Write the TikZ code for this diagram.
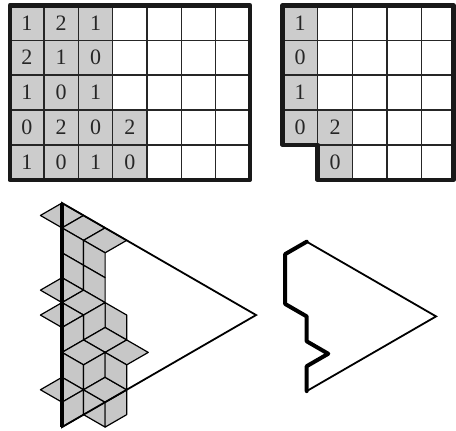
\documentclass[tikz,border=0pt]{standalone}
\usepackage{fontspec}
\setmainfont{Liberation Serif}
\newcommand\LA[2]{({62+21.564*(#1)},{203+12.45*(#1)+24.9*(#2)})}
\newcommand\LB[2]{({306.7+21.564*(#1)},{241.7+12.45*(#1)+24.9*(#2)})}
\newcommand\rhH[2]{\filldraw[tile] \LA{#1-1}{#2} -- \LA{#1}{#2-1} -- \LA{#1+1}{#2-1} -- \LA{#1}{#2} -- cycle;}
\newcommand\rhE[2]{\filldraw[tile] \LA{#1}{#2} -- \LA{#1+1}{#2} -- \LA{#1+1}{#2+1} -- \LA{#1}{#2+1} -- cycle;}
\newcommand\rhF[2]{\filldraw[tile] \LA{#1}{#2} -- \LA{#1+1}{#2-1} -- \LA{#1+1}{#2} -- \LA{#1}{#2+1} -- cycle;}
\begin{document}
\begin{tikzpicture}[x=1pt,y=-1pt,
  gridline/.style={line width=1.3pt, draw=black!85},
  border/.style={line width=4.5pt, draw=black!90, line join=round, line cap=round},
  cellgray/.style={fill=black!20},
  tile/.style={fill=black!22, draw=black, line width=1.2pt, line join=round},
  tri/.style={draw=black, line width=1.8pt, line join=miter},
  heavy/.style={draw=black, line width=4pt, line join=round, line cap=round},
  num/.style={font=\fontsize{22}{22}\selectfont, text=black!85, inner sep=0pt}]
\useasboundingbox (0,0) rectangle (456,431);

% ---------- top-left grid ----------
\fill[cellgray] (9.8,5.3) rectangle (112.7,179.8);
\fill[cellgray] (112.7,110) rectangle (147,179.8);
\foreach \x in {44.1,78.4,112.7,147,181.3,215.6}
  \draw[gridline] (\x,5.3) -- (\x,179.8);
\foreach \y in {40.2,75.1,110,144.9}
  \draw[gridline] (9.8,\y) -- (249.9,\y);
\draw[border] (9.8,5.3) rectangle (249.9,179.8);
\foreach \r/\yy in {1/22.75,2/57.65,3/92.55,4/127.45,5/162.35}
  \foreach \c/\xx in {1/26.95,2/61.25,3/95.55,4/129.85}
    \coordinate (L\r\c) at (\xx,\yy);
\node[num] (a11) at (L11) {1}; \node[num] (a12) at (L12) {2}; \node[num] (a13) at (L13) {1};
\node[num] (a21) at (L21) {2}; \node[num] (a22) at (L22) {1}; \node[num] (a23) at (L23) {0};
\node[num] (a31) at (L31) {1}; \node[num] (a32) at (L32) {0}; \node[num] (a33) at (L33) {1};
\node[num] (a41) at (L41) {0}; \node[num] (a42) at (L42) {2}; \node[num] (a43) at (L43) {0}; \node[num] (a44) at (L44) {2};
\node[num] (a51) at (L51) {1}; \node[num] (a52) at (L52) {0}; \node[num] (a53) at (L53) {1}; \node[num] (a54) at (L54) {0};

% ---------- top-right grid ----------
\fill[cellgray] (282.7,5.3) rectangle (317.7,144.9);
\fill[cellgray] (317.7,110) rectangle (352.7,179.8);
\foreach \x in {317.7,352.7,387,421.5}
  \draw[gridline] (\x,5.3) -- (\x,179.8);
\foreach \y in {40.2,75.1,110,144.9}
  \draw[gridline] (282.7,\y) -- (453.5,\y);
\draw[border] (282.7,144.9) -- (282.7,5.3) -- (453.5,5.3) -- (453.5,179.8)
  -- (317.7,179.8) -- (317.7,144.9) -- cycle;
\node[num] (b1) at (300.2,22.75) {1};
\node[num] (b2) at (300.2,57.65) {0};
\node[num] (b3) at (300.2,92.55) {1};
\node[num] (b4) at (300.2,127.45) {0};
\node[num] (b5) at (335.2,127.45) {2};
\node[num] (b6) at (335.2,162.35) {0};

% ---------- bottom-left lozenges ----------
\rhH{0}{1} \rhH{1}{1} \rhH{2}{1}
\rhE{0}{1} \rhE{0}{2} \rhE{1}{1} \rhE{1}{2}
\rhH{0}{4} \rhH{1}{4}
\rhE{2}{3}
\rhF{1}{4}
\rhH{0}{5}
\rhF{0}{5}
\rhH{2}{5} \rhH{3}{5}
\rhH{1}{6}
\rhE{0}{6}
\rhH{0}{8}
\rhF{0}{8}
\rhE{1}{7}
\rhF{2}{7}
\rhF{1}{6} \rhH{2}{7} \rhE{2}{5}
\draw[tri] \LA{0}{0} -- \LA{9}{0} -- \LA{0}{9} -- cycle;
\draw[heavy, line cap=butt] \LA{0}{0} -- \LA{0}{9};

% ---------- bottom-right outline ----------
\draw[tri] \LB{0}{0} -- \LB{6}{0} -- \LB{0}{6};
\draw[heavy] \LB{0}{0} -- \LB{-1}{1} -- \LB{-1}{3} -- \LB{0}{3} -- \LB{0}{4}
  -- \LB{1}{4} -- \LB{0}{5} -- \LB{0}{6};
\end{tikzpicture}
\end{document}
